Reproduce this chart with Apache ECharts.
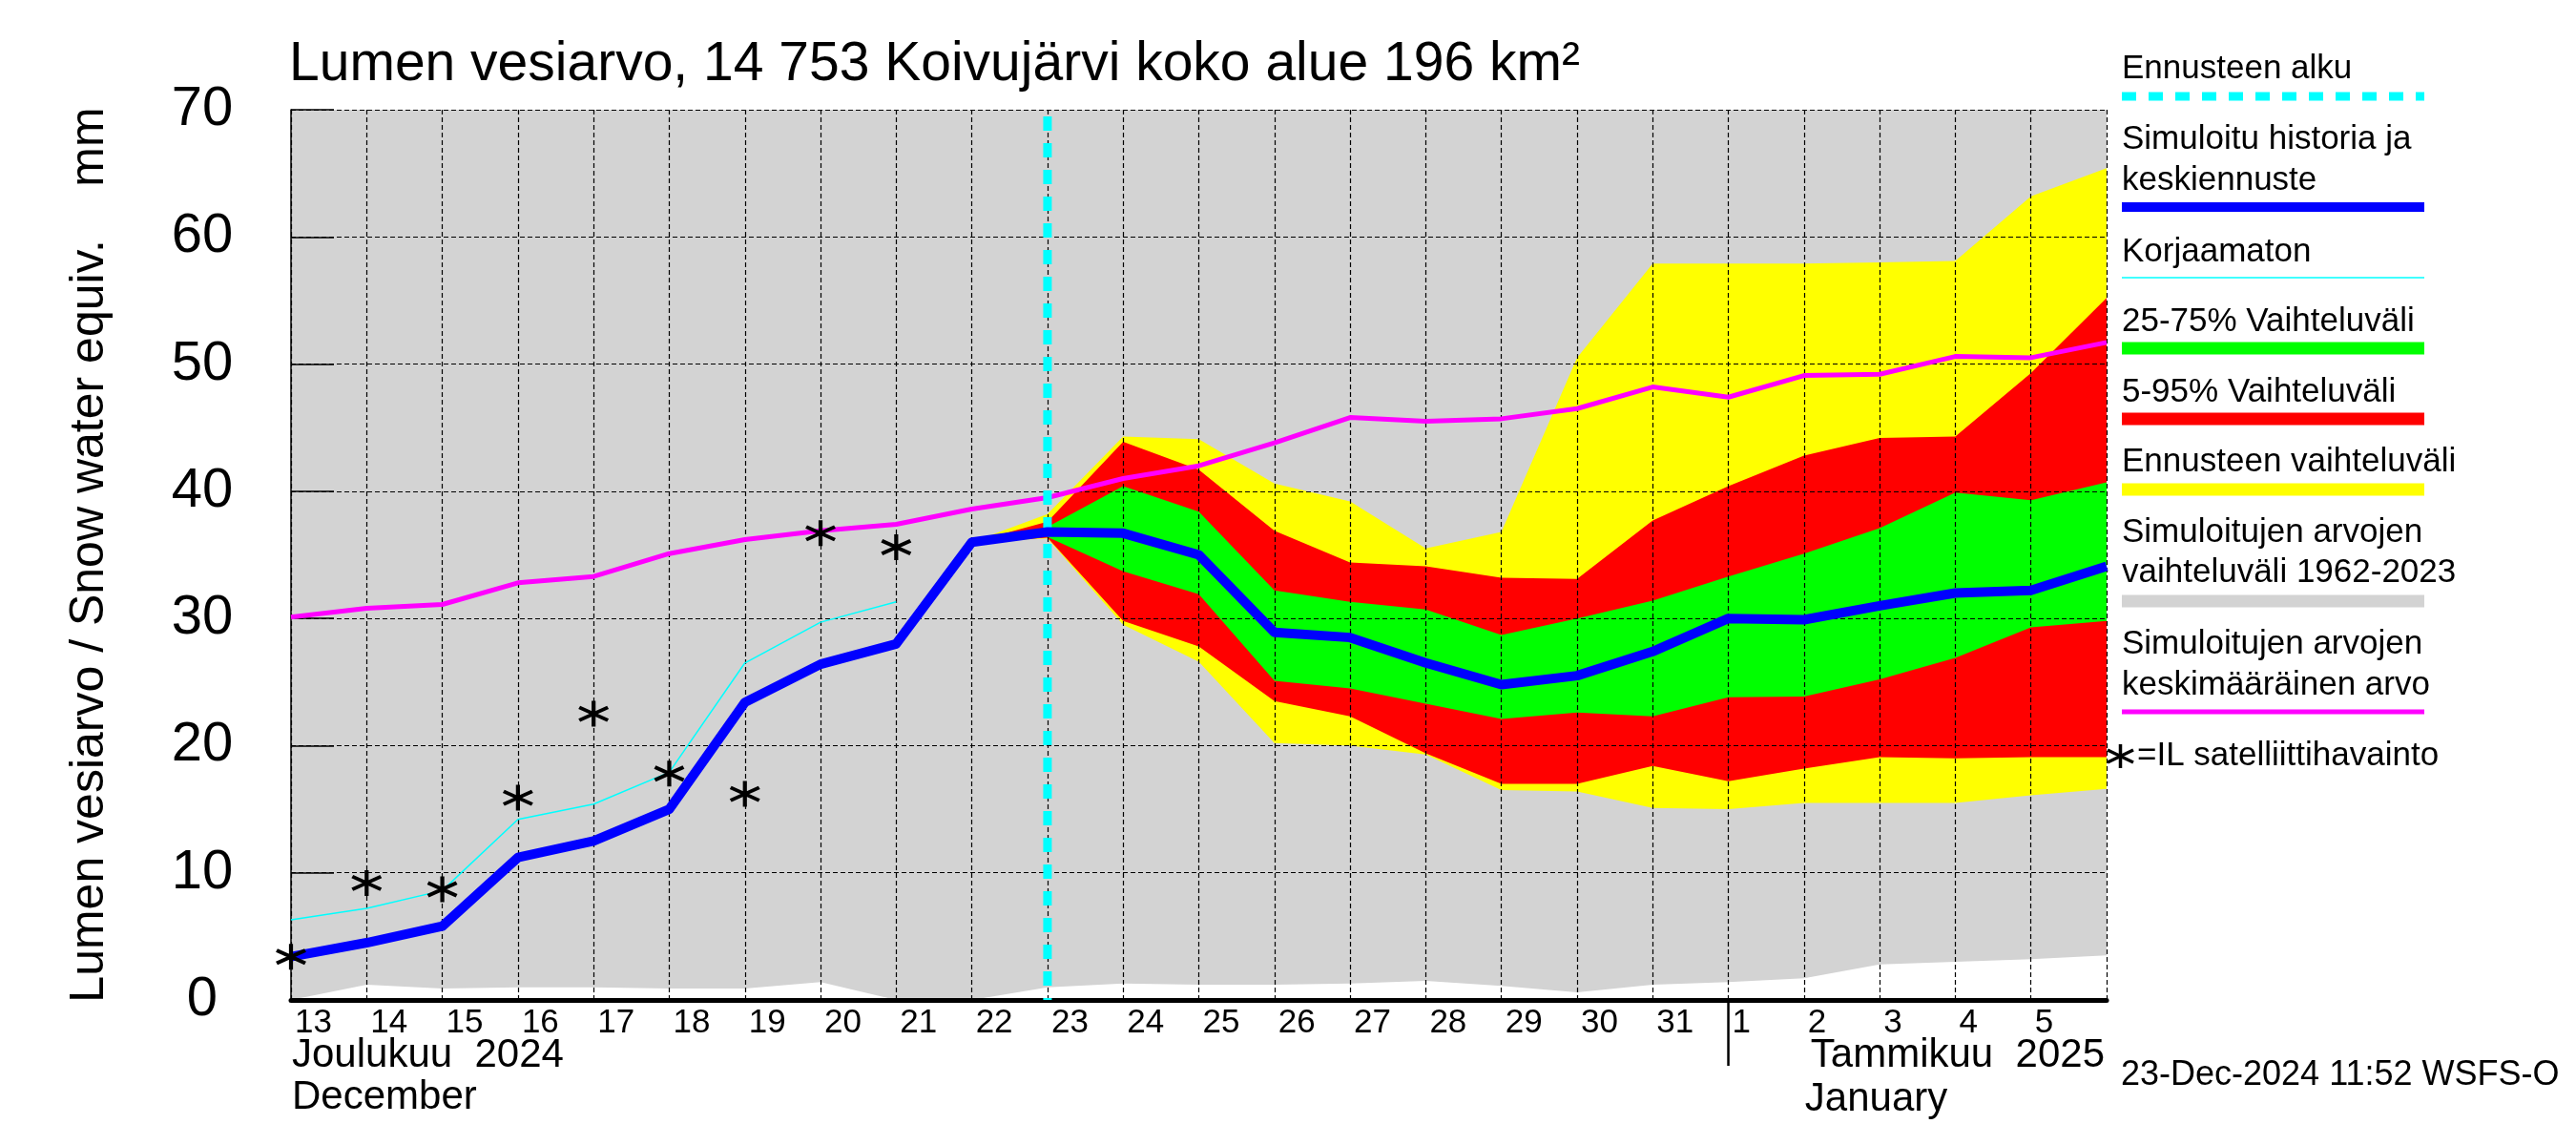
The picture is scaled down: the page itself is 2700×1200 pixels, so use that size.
<!DOCTYPE html>
<html><head><meta charset="utf-8">
<script src="https://cdn.jsdelivr.net/npm/echarts@6/dist/echarts.min.js"></script>
<style>html,body{margin:0;padding:0;background:#fff}#c{width:2700px;height:1200px}</style>
</head><body><div id="c"></div>
<script>
// x positions are day indices: 0 = 13 Dec 2024 ... 24 = 6 Jan 2025
const dayLabels = ['13','14','15','16','17','18','19','20','21','22','23','24','25','26','27','28','29','30','31','1','2','3','4','5',''];
const dayIdx = [0,1,2,3,4,5,6,7,8,9,10,11,12,13,14,15,16,17,18,19,20,21,22,23,24];

// Simulated history and mean forecast (blue)
const simulated = [3.4,4.5,5.8,11.2,12.5,15.0,23.4,26.4,28.0,36.0,36.8,36.7,35.0,28.9,28.5,26.5,24.8,25.5,27.4,30.0,29.9,31.0,32.0,32.2,34.1];
// Uncorrected (thin cyan), days 0..8
const uncorrected = [6.3,7.2,8.6,14.2,15.4,17.9,26.5,29.7,31.3];
// Mean of simulated values (magenta)
const meanSim = [30.1,30.8,31.1,32.8,33.3,35.1,36.2,36.9,37.4,38.6,39.5,41.0,42.0,43.8,45.8,45.5,45.7,46.5,48.2,47.4,49.1,49.2,50.6,50.5,51.7];
// Satellite observations
const satIdx = [0,1,2,3,4,5,6,7,8];
const satValues = [3.4,9.2,8.7,15.9,22.5,17.8,16.2,36.7,35.6];
// Range of simulated values 1962-2023 (grey)
const simRangeLo = [0.0,1.2,0.9,1.0,1.0,0.9,0.9,1.4,0.0,0.0,1.0,1.3,1.2,1.2,1.3,1.5,1.1,0.6,1.2,1.4,1.7,2.8,3.0,3.2,3.5];
const simRangeHi = [70,70,70,70,70,70,70,70,70,70,70,70,70,70,70,70,70,70,70,70,70,70,70,70,70];
// Forecast bands start at day index 9
const fcStart = 9;
const fcRangeHi = [36.0,38.2,44.3,44.1,40.6,39.2,35.5,36.8,50.5,57.9,57.9,57.9,58.0,58.1,63.2,65.4];
const fcRangeLo = [36.0,36.3,29.5,26.6,20.2,20.0,19.3,16.5,16.4,15.1,15.0,15.5,15.5,15.5,16.1,16.6];
const p95 = [36.0,37.6,43.9,41.7,36.9,34.4,34.1,33.2,33.1,37.7,40.4,42.8,44.2,44.3,49.3,55.2];
const p5  = [36.0,36.35,29.8,27.8,23.5,22.3,19.4,17.0,17.0,18.4,17.2,18.2,19.1,19.0,19.1,19.1];
const qStart = 10;
const p75 = [37.2,40.4,38.4,32.2,31.3,30.7,28.7,30.0,31.4,33.3,35.1,37.1,39.9,39.3,40.7];
const p25 = [36.4,33.7,31.9,25.1,24.5,23.3,22.1,22.6,22.3,23.8,23.85,25.2,26.9,29.3,29.8];
const forecastStartIdx = 10;
const janFirstIdx = 19;

const FONT = '"Liberation Sans", Arial, Helvetica, sans-serif';
const pairs = (start, arr) => arr.map((v, i) => [start + i, v]);

function band(name, start, lo, hi, color, z) {
  return {
    type: 'custom', name, z, silent: true, data: [[start, lo[0]]],
    renderItem(params, api) {
      const pts = [];
      for (let i = 0; i < hi.length; i++) pts.push(api.coord([start + i, hi[i]]));
      for (let i = lo.length - 1; i >= 0; i--) pts.push(api.coord([start + i, lo[i]]));
      return { type: 'polygon', shape: { points: pts }, style: { fill: color } };
    }
  };
}

const asteriskPath = 'path://M13.5,0 L13.5,24 M0,6 L27,18 M0,18 L27,6';

const chart = echarts.init(document.getElementById('c'), null, { renderer: 'canvas' });
const option = {
  animation: false,
  backgroundColor: '#ffffff',
  textStyle: { fontFamily: FONT },
  title: {
    text: 'Lumen vesiarvo, 14 753 Koivujärvi koko alue 196 km²',
    left: 303, top: 40, padding: 0,
    textStyle: { fontFamily: FONT, fontSize: 57, fontWeight: 'normal', color: '#000' }
  },
  grid: { left: 305, right: 492, top: 115, bottom: 152, containLabel: false, outerBoundsMode: 'none' },
  xAxis: {
    type: 'value', min: 0, max: 24, interval: 1,
    axisLine: { show: true, onZero: false, lineStyle: { color: '#000', width: 5 } },
    axisTick: { show: false },
    axisLabel: {
      show: true, align: 'left', margin: 7, fontSize: 35, color: '#000', fontFamily: FONT,
      padding: [0, 0, 0, 4],
      showMinLabel: true, showMaxLabel: true,
      formatter: v => (dayLabels[v] !== undefined ? dayLabels[v] : '')
    },
    splitLine: { show: true, lineStyle: { color: '#000', width: 1.2, type: [5, 3] } }
  },
  yAxis: {
    type: 'value', min: 0, max: 70, interval: 10,
    name: 'Lumen vesiarvo / Snow water equiv.    mm',
    nameLocation: 'middle', nameRotate: 90, nameGap: 186,
    nameTextStyle: { fontFamily: FONT, fontSize: 50, color: '#000' },
    axisLine: { show: true, lineStyle: { color: '#000', width: 1.5 } },
    axisTick: { show: true, inside: true, length: 45, lineStyle: { color: '#000', width: 1.5 } },
    axisLabel: { fontSize: 58, color: '#000', margin: 93, align: 'center', verticalAlign: 'middle', padding: [0, 0, 6, 0], fontFamily: FONT,
      formatter: v => String(v) },
    splitLine: { show: true, lineStyle: { color: '#000', width: 1.2, type: [5, 3] } }
  },
  series: [
    band('Simuloitujen arvojen vaihteluväli 1962-2023', 0, simRangeLo, simRangeHi, '#d3d3d3', -4),
    band('Ennusteen vaihteluväli', fcStart, fcRangeLo, fcRangeHi, '#ffff00', -3),
    band('5-95% Vaihteluväli', fcStart, p5, p95, '#ff0000', -2),
    band('25-75% Vaihteluväli', qStart, p25, p75, '#00ff00', -1),
    { type: 'line', name: 'Korjaamaton', z: 3, data: pairs(0, uncorrected), showSymbol: false, silent: true,
      lineStyle: { color: '#00ffff', width: 1.5 } },
    { type: 'line', name: 'Simuloitujen arvojen keskimääräinen arvo', z: 3, data: pairs(0, meanSim), showSymbol: false, silent: true,
      lineStyle: { color: '#ff00ff', width: 5 } },
    { type: 'line', name: 'Ennusteen alku', z: 4, data: [[forecastStartIdx, 0], [forecastStartIdx, 70]], showSymbol: false, silent: true,
      lineStyle: { color: '#00ffff', width: 9, type: [15, 13], dashOffset: 13 } },
    { type: 'line', name: 'Simuloitu historia ja keskiennuste', z: 5, data: pairs(0, simulated), showSymbol: false, silent: true,
      lineStyle: { color: '#0000ff', width: 10, join: 'round' } },
    { type: 'scatter', name: '=IL satelliittihavainto', z: 6, silent: true,
      data: satIdx.map((d, i) => [d, satValues[i]]),
      symbol: asteriskPath, symbolSize: [30, 27],
      itemStyle: { color: 'rgba(0,0,0,0)', borderColor: '#000', borderWidth: 4, opacity: 1 } }
  ]
};
chart.setOption(option);

// Legend and annotation texts (drawn as graphic text)
const LX = 2224, LX2 = 2541;
function ltext(t, y, x) {
  return { type: 'text', x: x || LX, y, style: { text: t, fontFamily: FONT, fontSize: 35, fill: '#000', textVerticalAlign: 'middle', textAlign: 'left' } };
}
function lline(y, color, w, dash) {
  return { type: 'line', shape: { x1: LX, y1: y, x2: LX2, y2: y }, style: { stroke: color, lineWidth: w, lineDash: dash || null } };
}
function seg(x1, y1, x2, y2, w) {
  return { type: 'line', shape: { x1, y1, x2, y2 }, style: { stroke: '#000', lineWidth: w || 3 } };
}
const base0 = chart.convertToPixel({ xAxisIndex: 0, yAxisIndex: 0 }, [0, 0]);
const janP = chart.convertToPixel({ xAxisIndex: 0, yAxisIndex: 0 }, [janFirstIdx, 0]);
const jan2P = chart.convertToPixel({ xAxisIndex: 0, yAxisIndex: 0 }, [janFirstIdx + 1, 0]);
const endP = chart.convertToPixel({ xAxisIndex: 0, yAxisIndex: 0 }, [24, 0]);
const mtxt = (t, x, y, align) => ({ type: 'text', x, y, style: { text: t, fontFamily: FONT, fontSize: 42, fill: '#000', textVerticalAlign: 'middle', textAlign: align || 'left' } });

const AX = 2209, AY = 780;
chart.setOption({
  graphic: [
    ltext('Ennusteen alku', 72),
    lline(101, '#00ffff', 9, [15, 13]),
    ltext('Simuloitu historia ja', 146),
    ltext('keskiennuste', 189),
    lline(217, '#0000ff', 10),
    ltext('Korjaamaton', 264),
    lline(291, '#00ffff', 1.5),
    ltext('25-75% Vaihteluväli', 337),
    lline(365, '#00ff00', 13),
    ltext('5-95% Vaihteluväli', 411),
    lline(439, '#ff0000', 13),
    ltext('Ennusteen vaihteluväli', 484),
    lline(513, '#ffff00', 13),
    ltext('Simuloitujen arvojen', 558),
    ltext('vaihteluväli 1962-2023', 600),
    lline(630, '#d3d3d3', 13),
    ltext('Simuloitujen arvojen', 675),
    ltext('keskimääräinen arvo', 718),
    lline(746, '#ff00ff', 5),
    seg(AX + 13.5, AY, AX + 13.5, AY + 25, 3.5),
    seg(AX, AY + 6, AX + 27, AY + 19, 3.5),
    seg(AX, AY + 19, AX + 27, AY + 6, 3.5),
    ltext('=IL satelliittihavainto', 792, 2240),
    // month labels
    mtxt('Joulukuu  2024', base0[0] + 1, 1106),
    mtxt('December', base0[0] + 1, 1150),
    mtxt('Tammikuu  2025', endP[0] - 2, 1106, 'right'),
    mtxt('January', jan2P[0] + 1, 1152),
    { type: 'line', shape: { x1: janP[0], y1: janP[1], x2: janP[0], y2: janP[1] + 69 }, style: { stroke: '#000', lineWidth: 2.5 } },
    { type: 'text', x: 2223, y: 1127, style: { text: '23-Dec-2024 11:52 WSFS-O', fontFamily: FONT, fontSize: 36, fill: '#000', textVerticalAlign: 'middle', textAlign: 'left' } }
  ]
});
</script></body></html>
